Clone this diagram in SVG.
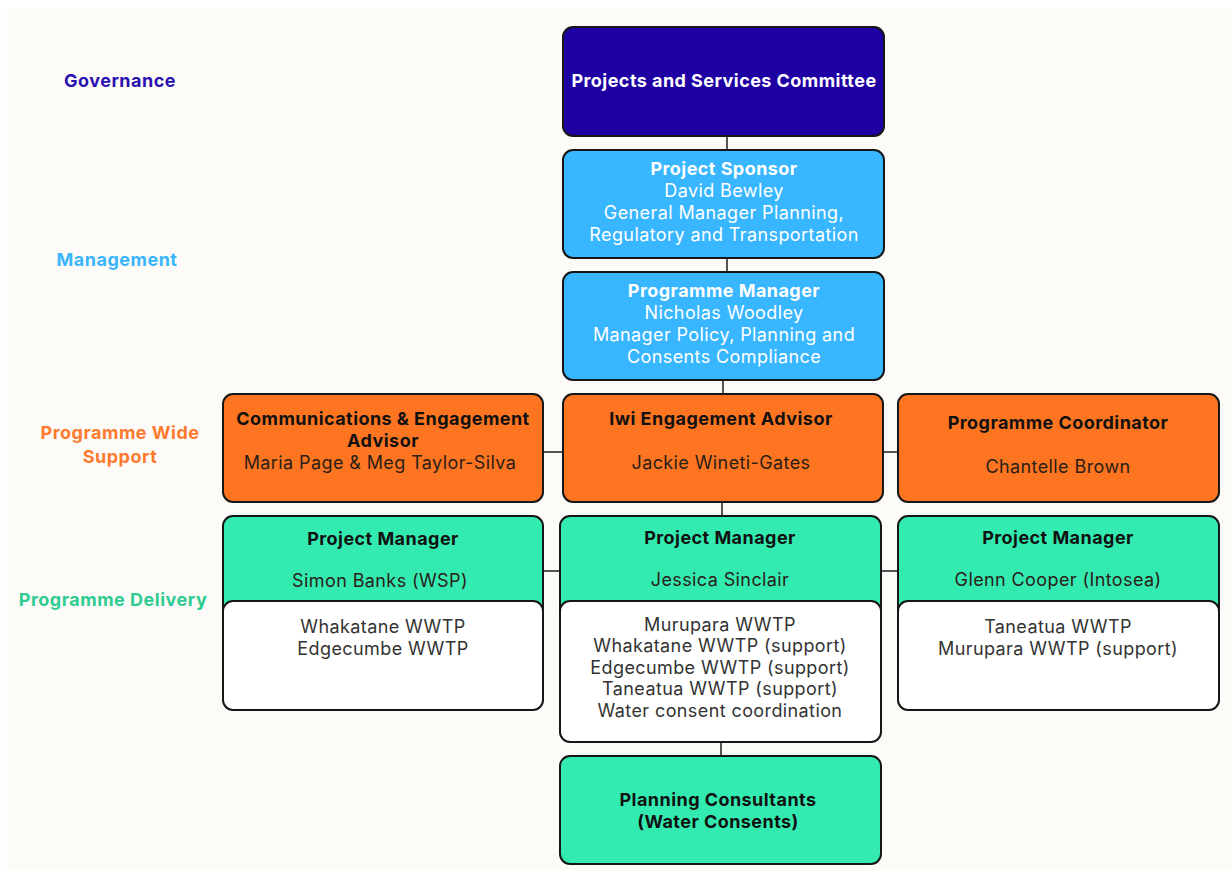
<svg xmlns="http://www.w3.org/2000/svg" width="1232" height="871" viewBox="0 0 1232 871">
  <style>
    text { font-family: Inter, "Liberation Sans", sans-serif; font-size: 18px; letter-spacing: 0.4px; text-anchor: middle; }
    .b { font-weight: 700; letter-spacing: 0.45px; }
    .box { stroke: #161616; stroke-width: 2; }
    .gov { fill: #1e00a3; }
    .mgmt { fill: #38b6ff; }
    .sup { fill: #fd7520; }
    .del { fill: #33ebb0; }
    .list { fill: #ffffff; }
    .wt { fill: #ffffff; }
    .dk { fill: #111111; }
    .nm { fill: #2b2017; }
    .gr { fill: #333333; }
    .lvl { font-weight: 700; letter-spacing: 0.5px; }
    .conn line { stroke: #555555; stroke-width: 2; }
  </style>

  <rect x="0" y="0" width="1232" height="871" fill="#ffffff"/>
  <rect x="7" y="8" width="1225" height="862" fill="#fdfbf7"/>

  <!-- tier labels -->
  <g id="tier-labels">
    <text class="lvl" x="120" y="87" fill="#2a12b0">Governance</text>
    <text class="lvl" x="117" y="266" fill="#3ab5fc">Management</text>
    <text class="lvl" x="120" y="439" fill="#fd7a2e">Programme Wide</text>
    <text class="lvl" x="120" y="463" fill="#fd7a2e">Support</text>
    <text class="lvl" x="113" y="606" fill="#2ecb92">Programme Delivery</text>
  </g>

  <!-- connectors -->
  <g id="connectors" class="conn">
    <line x1="727" y1="136" x2="727" y2="150"/>
    <line x1="727" y1="258" x2="727" y2="272"/>
    <line x1="723" y1="380" x2="723" y2="394"/>
    <line x1="543" y1="452" x2="563" y2="452"/>
    <line x1="883" y1="452" x2="898" y2="452"/>
    <line x1="722" y1="502" x2="722" y2="516"/>
    <line x1="543" y1="571" x2="560" y2="571"/>
    <line x1="881" y1="571" x2="898" y2="571"/>
    <line x1="721" y1="742" x2="721" y2="756"/>
  </g>

  <g id="committee">
    <rect class="box gov" x="563" y="27" width="321" height="109" rx="10"/>
    <text class="b wt" x="724" y="87">Projects and Services Committee</text>
  </g>

  <g id="project-sponsor">
    <rect class="box mgmt" x="563" y="150" width="321" height="108" rx="10"/>
    <text class="b wt" x="724" y="175">Project Sponsor</text>
    <text class="wt" x="724" y="197">David Bewley</text>
    <text class="wt" x="724" y="219">General Manager Planning,</text>
    <text class="wt" x="724" y="241">Regulatory and Transportation</text>
  </g>

  <g id="programme-manager">
    <rect class="box mgmt" x="563" y="272" width="321" height="108" rx="10"/>
    <text class="b wt" x="724" y="297">Programme Manager</text>
    <text class="wt" x="724" y="319">Nicholas Woodley</text>
    <text class="wt" x="724" y="341">Manager Policy, Planning and</text>
    <text class="wt" x="724" y="363">Consents Compliance</text>
  </g>

  <g id="comms-advisor">
    <rect class="box sup" x="223" y="394" width="320" height="108" rx="10"/>
    <text class="b dk" x="383" y="425">Communications &amp; Engagement</text>
    <text class="b dk" x="383" y="447">Advisor</text>
    <text class="nm" x="380" y="469">Maria Page &amp; Meg Taylor-Silva</text>
  </g>

  <g id="iwi-advisor">
    <rect class="box sup" x="563" y="394" width="320" height="108" rx="10"/>
    <text class="b dk" x="721" y="425">Iwi Engagement Advisor</text>
    <text class="nm" x="721" y="469">Jackie Wineti-Gates</text>
  </g>

  <g id="programme-coordinator">
    <rect class="box sup" x="898" y="394" width="321" height="108" rx="10"/>
    <text class="b dk" x="1058" y="429">Programme Coordinator</text>
    <text class="nm" x="1058" y="473">Chantelle Brown</text>
  </g>

  <g id="pm-simon-banks">
    <rect class="box del" x="223" y="516" width="320" height="104" rx="10"/>
    <text class="b dk" x="383" y="545">Project Manager</text>
    <text class="nm" x="380" y="587">Simon Banks (WSP)</text>
    <rect class="box list" x="223" y="601" width="320" height="109" rx="10"/>
    <text class="gr" x="383" y="633">Whakatane WWTP</text>
    <text class="gr" x="383" y="655">Edgecumbe WWTP</text>
  </g>

  <g id="pm-jessica-sinclair">
    <rect class="box del" x="560" y="516" width="321" height="104" rx="10"/>
    <text class="b dk" x="720" y="544">Project Manager</text>
    <text class="nm" x="720" y="586">Jessica Sinclair</text>
    <rect class="box list" x="560" y="601" width="321" height="141" rx="10"/>
    <text class="gr" x="720" y="631">Murupara WWTP</text>
    <text class="gr" x="720" y="652">Whakatane WWTP (support)</text>
    <text class="gr" x="720" y="674">Edgecumbe WWTP (support)</text>
    <text class="gr" x="720" y="695">Taneatua WWTP (support)</text>
    <text class="gr" x="720" y="717">Water consent coordination</text>
  </g>

  <g id="pm-glenn-cooper">
    <rect class="box del" x="898" y="516" width="321" height="104" rx="10"/>
    <text class="b dk" x="1058" y="544">Project Manager</text>
    <text class="nm" x="1058" y="586">Glenn Cooper (Intosea)</text>
    <rect class="box list" x="898" y="601" width="321" height="109" rx="10"/>
    <text class="gr" x="1058" y="633">Taneatua WWTP</text>
    <text class="gr" x="1058" y="655">Murupara WWTP (support)</text>
  </g>

  <g id="planning-consultants">
    <rect class="box del" x="560" y="756" width="321" height="108" rx="10"/>
    <text class="b dk" x="718" y="806">Planning Consultants</text>
    <text class="b dk" x="718" y="828">(Water Consents)</text>
  </g>
</svg>
